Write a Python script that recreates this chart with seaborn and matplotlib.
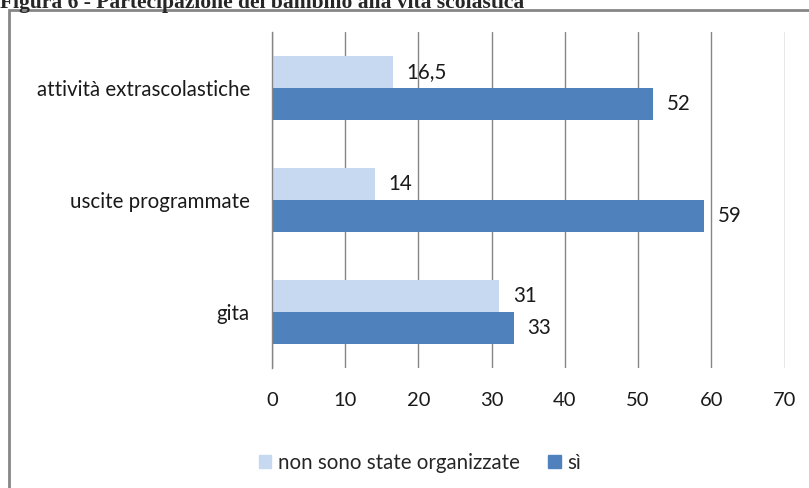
import pandas as pd
import matplotlib.pyplot as plt
import matplotlib.patches as mpatches
from matplotlib.ticker import FixedLocator
import seaborn as sns

# data
categorie = ["attività extrascolastiche", "uscite programmate", "gita"]
non_organizzate = [16.5, 14, 31]
si = [52, 59, 33]
serie = ["non sono state organizzate", "sì"]
colori = ["#C6D9F1", "#4F81BD"]

df = pd.DataFrame({
    "categoria": categorie * 2,
    "valore": non_organizzate + si,
    "serie": [serie[0]] * len(categorie) + [serie[1]] * len(categorie),
})

sns.set_style("white")
plt.rcParams["font.family"] = ["Lato", "DejaVu Sans"]

fig = plt.figure(figsize=(8.09, 4.88), dpi=100)
ax = fig.add_axes([272 / 809, 1 - 368 / 488, (784.5 - 272) / 809, (368 - 32) / 488])

sns.barplot(data=df, x="valore", y="categoria", hue="serie", orient="h",
            palette=colori, hue_order=serie, order=categorie, width=0.57,
            saturation=1, linewidth=0, ax=ax, legend=False)

ax.set_xlim(0, 70)
ax.set_ylim(2.5, -0.5)
ax.set_xticks(range(0, 71, 10))
ax.set_xlabel("")
ax.set_ylabel("")

# grid and axes like the spreadsheet chart
grigio = "#868686"
testo = "#1a1a1a"
ax.xaxis.grid(True, color=grigio, linewidth=1)
ax.set_axisbelow(True)
for s in ["top", "right", "bottom"]:
    ax.spines[s].set_visible(False)
ax.spines["left"].set_color(grigio)
ax.spines["left"].set_linewidth(1)
ax.tick_params(axis="x", length=6, width=1, color=grigio, pad=11,
               labelsize=14.5, labelcolor=testo)
ax.tick_params(axis="y", which="major", length=0, pad=16,
               labelsize=14.8, labelcolor=testo)
ax.yaxis.set_minor_locator(FixedLocator([-0.5, 0.5, 1.5, 2.5]))
ax.tick_params(axis="y", which="minor", length=7, width=1, color=grigio)

for cont in ax.containers:
    etichette = [f"{b.get_width():g}".replace(".", ",") for b in cont]
    ax.bar_label(cont, labels=etichette, padding=10, fontsize=14.8, color=testo)

# legend at the bottom
maniglie = [mpatches.Patch(color=c, label=l) for c, l in zip(colori, serie)]
fig.legend(handles=maniglie, loc="center", bbox_to_anchor=(0.519, 1 - 463 / 488),
           ncol=2, frameon=False, fontsize=14.8, handlelength=0.6,
           handleheight=0.6, handletextpad=0.32, columnspacing=1.4)

# outer frame, cut at right and bottom
fig.patches.append(mpatches.Rectangle((9 / 809, -0.2), 1.2, 1.2 - 10 / 488,
                                      transform=fig.transFigure, fill=False,
                                      ec=grigio, lw=2))

fig.text(0, 1 - 8 / 488, "Figura 6 - Partecipazione del bambino alla vita scolastica",
         family="Liberation Serif", fontweight="bold", fontsize=15.5,
         va="baseline", ha="left")

fig.savefig("out.png", dpi=100)
